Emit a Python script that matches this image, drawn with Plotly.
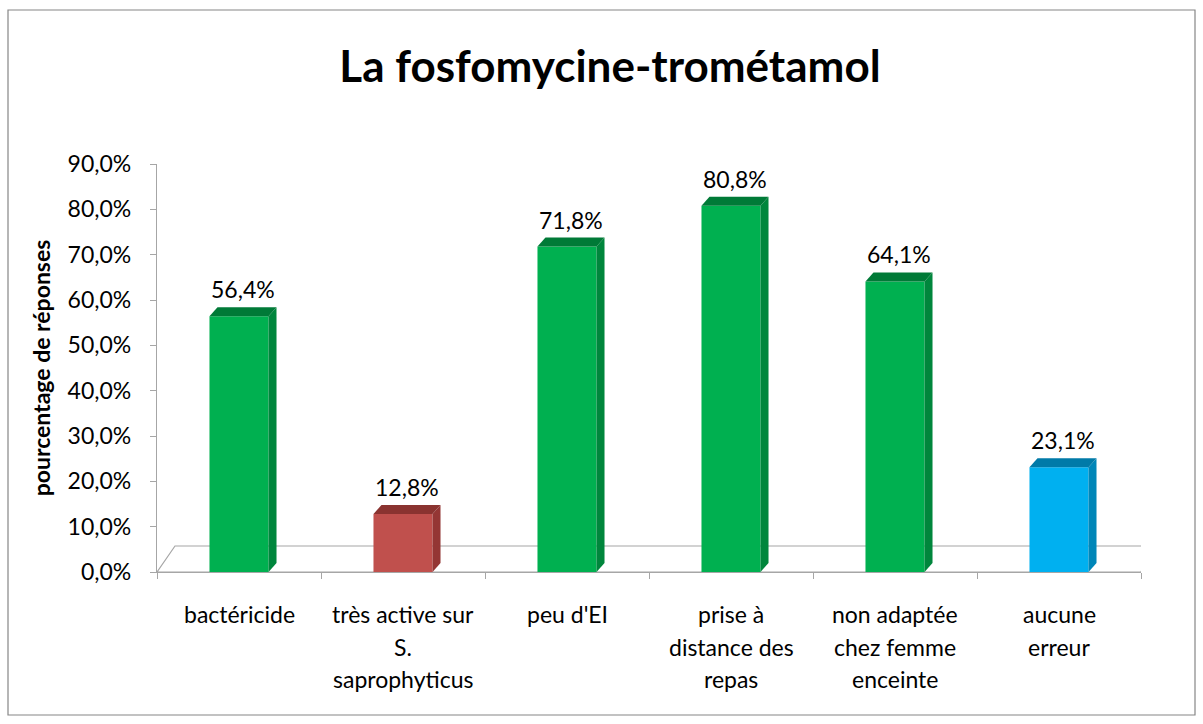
import plotly.graph_objects as go

# ---- data -------------------------------------------------------------
categories = [
    ["bactéricide"],
    ["très active sur", "S.", "saprophyticus"],
    ["peu d'EI"],
    ["prise à", "distance des", "repas"],
    ["non adaptée", "chez femme", "enceinte"],
    ["aucune", "erreur"],
]
values = [56.4, 12.8, 71.8, 80.8, 64.1, 23.1]          # percent
bar_colors = ["#00B050", "#C0504D", "#00B050", "#00B050", "#00B050", "#00B0F0"]
side_colors = ["#00863C", "#943634", "#00863C", "#00863C", "#00863C", "#0086B8"]
top_colors = ["#007A37", "#8A3330", "#007A37", "#007A37", "#007A37", "#007AA8"]
y_ticks = [0, 10, 20, 30, 40, 50, 60, 70, 80, 90]
y_max = 90

# ---- layout geometry --------------------------------------------------
W, H = 1203, 724
ML, MR, MT, MB = 157, 62, 164, 152
plot_w = W - ML - MR
plot_h = H - MT - MB
n = len(values)
px_per_cat = plot_w / n
px_per_pct = plot_h / y_max
bar_w = 0.36
depth_x = 8 / px_per_cat      # depth of the 3D faces, in category units
depth_y = 9                   # depth of the 3D faces, in pixels
FONT = "Lato"
FS = 23

x = list(range(n))
fig = go.Figure()

fig.add_trace(go.Bar(
    x=x, y=[v / 100 for v in values], width=bar_w,
    marker=dict(color=bar_colors, line=dict(width=0)),
    hoverinfo="skip", showlegend=False,
))

shapes = []
# floor of the 3D box
shapes.append(dict(
    type="path", xref="x", yref="y", ysizemode="pixel", yanchor=0,
    path=(f"M -0.5,0 L {-0.5 + 18 / px_per_cat},26 "
          f"L {n - 0.5 + 12 / px_per_cat},26 L {n - 0.5},0 Z"),
    line=dict(color="#A6A6A6", width=1.2), fillcolor="rgba(0,0,0,0)", layer="below",
))

# side and top faces of each column
for i, v in enumerate(values):
    xl, xr = i - bar_w / 2, i + bar_w / 2
    top_px = v * px_per_pct
    shapes.append(dict(
        type="path", xref="x", yref="y", ysizemode="pixel", yanchor=0,
        path=(f"M {xr},0 L {xr + depth_x},{depth_y} "
              f"L {xr + depth_x},{top_px + depth_y} L {xr},{top_px} Z"),
        fillcolor=side_colors[i], line=dict(width=0), layer="above",
    ))
    shapes.append(dict(
        type="path", xref="x", yref="y", ysizemode="pixel", yanchor=0,
        path=(f"M {xl},{top_px} L {xl + depth_x},{top_px + depth_y} "
              f"L {xr + depth_x},{top_px + depth_y} L {xr},{top_px} Z"),
        fillcolor=top_colors[i], line=dict(width=0), layer="above",
    ))

# chart outer border
shapes.append(dict(
    type="rect", xref="paper", yref="paper",
    x0=(8 - ML) / plot_w, x1=(1195 - ML) / plot_w,
    y0=(H - MB - 715) / plot_h, y1=(H - MB - 10) / plot_h,
    line=dict(color="#868686", width=1.2), fillcolor="rgba(0,0,0,0)", layer="below",
))

annotations = []
# value labels above each column
for i, v in enumerate(values):
    annotations.append(dict(
        x=i + depth_x / 2, y=v / 100, xref="x", yref="y",
        text=f"{v:.1f}%".replace(".", ","), showarrow=False,
        yanchor="bottom", yshift=depth_y + 2,
        font=dict(family=FONT, size=FS, color="#000000"),
    ))
# category labels, one annotation per line
for i, lines in enumerate(categories):
    for j, line in enumerate(lines):
        annotations.append(dict(
            x=i, y=0, xref="x", yref="y", text=line, showarrow=False,
            yanchor="middle", yshift=-42 - 32.5 * j,
            font=dict(family=FONT, size=FS, color="#000000"),
        ))

fig.update_layout(
    width=W, height=H,
    margin=dict(l=ML, r=MR, t=MT, b=MB, pad=0),
    paper_bgcolor="white", plot_bgcolor="white",
    separators=", ",
    title=dict(
        text="<b>La fosfomycine-trométamol</b>",
        x=610 / W, xanchor="center", y=1 - 67 / H, yanchor="middle",
        font=dict(family=FONT, size=44, color="#000000"),
    ),
    xaxis=dict(
        range=[-0.5, n - 0.5], showgrid=False, zeroline=False,
        showline=True, linecolor="#A6A6A6", linewidth=1.2,
        tickvals=[k - 0.5 for k in range(n + 1)], ticktext=[""] * (n + 1),
        ticks="outside", ticklen=6, tickcolor="#A6A6A6",
    ),
    yaxis=dict(
        range=[0, y_max / 100], tickvals=[t / 100 for t in y_ticks], tickformat=".1%",
        showgrid=False, zeroline=False,
        showline=True, linecolor="#A6A6A6", linewidth=1.2,
        ticks="outside", ticklen=6, tickcolor="#A6A6A6",
        ticklabelstandoff=14,
        tickfont=dict(family=FONT, size=FS, color="#000000"),
        title=dict(text="<b>pourcentage de réponses</b>", standoff=10,
                   font=dict(family=FONT, size=FS, color="#000000")),
    ),
    shapes=shapes, annotations=annotations,
)

fig.write_html("out.html")
